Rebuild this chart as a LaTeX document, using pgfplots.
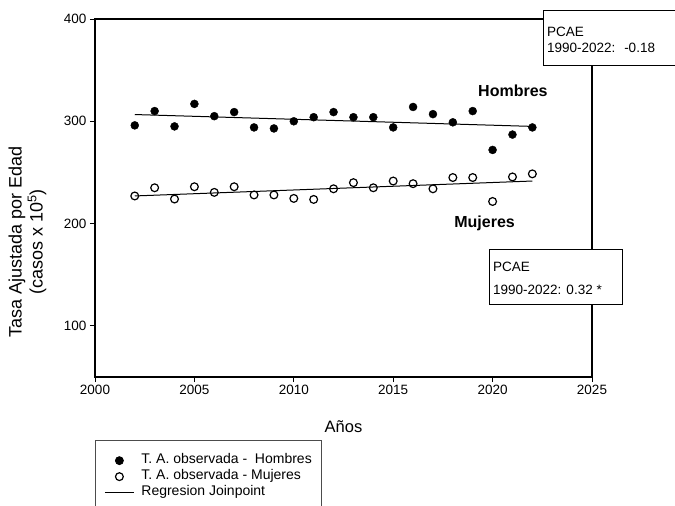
\documentclass[border=0pt]{standalone}
\usepackage{fontspec}
\setmainfont{Liberation Sans}
\usepackage{pgfplots}
\pgfplotsset{compat=1.18}
\begin{document}
\begin{tikzpicture}[x=1pt,y=1pt]
\begin{scope}
\clip (0,0) rectangle (675,506);
\begin{axis}[
  at={(95pt,129pt)}, anchor=south west,
  scale only axis, width=497pt, height=358pt,
  xmin=2000, xmax=2025, ymin=50, ymax=400,
  xtick={2000,2005,...,2025}, ytick={100,200,300,400},
  xtick pos=bottom, ytick pos=left, tick align=outside,
  major tick length=5pt,
  every tick/.style={black, line width=0.9pt},
  axis line style={line width=1.1pt},
  /pgf/number format/assume math mode=true,
  x tick label style={/pgf/number format/1000 sep={}},
  tick label style={font=\fontsize{13.5}{16}\selectfont},
  xlabel={Años},
  xlabel style={at={(axis description cs:0.5,-0.14)}, anchor=center, font=\fontsize{16.5}{20}\selectfont},
  ylabel={Tasa Ajustada por Edad\\(casos x 10\textsuperscript{5})},
  ylabel style={at={(axis description cs:-0.136,0.377)}, anchor=center, align=center, font=\fontsize{18}{21}\selectfont},
  clip=false,
  legend cell align=left,
  legend image code/.code={\draw[mark repeat=2,mark phase=2,#1] plot coordinates {(0pt,0pt) (14.5pt,0pt) (29pt,0pt)};},
  legend style={at={(0,0)}, anchor=north west, yshift=-63pt,
    draw=black!70, line width=0.8pt, inner xsep=9pt, inner ysep=13pt,
    font=\fontsize{14}{16}\selectfont, row sep=1.5pt, column sep=6pt,
    nodes={inner sep=1pt, text height=9.5pt, text depth=3pt}},
]
% Hombres
\addplot[only marks, mark=*, mark size=4pt, black] coordinates {
(2002,296)(2003,310)(2004,295)(2005,317)(2006,305)(2007,309)(2008,294)
(2009,293)(2010,300)(2011,304)(2012,309)(2013,304)(2014,304)(2015,294)
(2016,314)(2017,307)(2018,299)(2019,310)(2020,272)(2021,287)(2022,294)
};
\addlegendentry{T. A. observada -~ Hombres}
% Mujeres
\addplot[only marks, mark=o, mark size=3.9pt, black, mark options={line width=1.2pt}] coordinates {
(2002,227)(2003,235)(2004,224)(2005,236)(2006,230.5)(2007,236)(2008,228)
(2009,228)(2010,224.6)(2011,223.6)(2012,234)(2013,240)(2014,235)(2015,241.6)
(2016,239)(2017,234)(2018,245)(2019,245)(2020,221.6)(2021,245.6)(2022,248.6)
};
\addlegendentry{T. A. observada - Mujeres}
% regresiones
\addplot[black, line width=1pt] coordinates {(2002,306.6)(2022,295)};
\addlegendentry{Regresion Joinpoint}
\addplot[black, line width=1pt, forget plot] coordinates {(2002,227)(2022,241.6)};
\addlegendimage{empty legend}
\addlegendentry{}
\node[anchor=base west, font=\bfseries\fontsize{16}{19}\selectfont] at (axis cs:2019.1,324.5) {Hombres};
\node[anchor=base west, font=\bfseries\fontsize{16}{19}\selectfont] at (axis cs:2017.9,196.4) {Mujeres};
\end{axis}
% recuadros PCAE
\filldraw[fill=white, draw=black, line width=0.9pt] (543,441) rectangle (690,496);
\node[anchor=base west, inner sep=0pt, font=\fontsize{13.5}{16}\selectfont] at (547,469) {PCAE};
\node[anchor=base west, inner sep=0pt, font=\fontsize{13.5}{16}\selectfont] at (547,453) {1990-2022:~ -0.18};
\filldraw[fill=white, draw=black, line width=0.9pt] (489,202) rectangle (622,257);
\node[anchor=base west, inner sep=0pt, font=\fontsize{13.5}{16}\selectfont] at (493,234) {PCAE};
\node[anchor=base west, inner sep=0pt, font=\fontsize{13.5}{16}\selectfont] at (493,211) {1990-2022: 0.32 *};
\end{scope}
\pgfresetboundingbox
\useasboundingbox (0,0) rectangle (675,506);
\end{tikzpicture}
\end{document}
